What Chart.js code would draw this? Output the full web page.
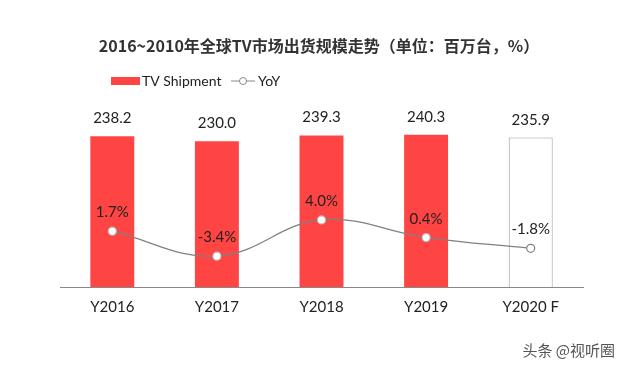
<!DOCTYPE html>
<html>
<head>
<meta charset="utf-8">
<script src="https://cdn.jsdelivr.net/npm/chart.js@4"></script>
<style>
html,body{margin:0;padding:0;background:#fff;}
#wrap{width:622px;height:367px;}
</style>
</head>
<body>
<div id="wrap"><canvas id="c" width="622" height="367"></canvas></div>
<script>
const categories = ['Y2016', 'Y2017', 'Y2018', 'Y2019', 'Y2020 F'];
const shipment = [238.2, 230.0, 239.3, 240.3, 235.9];
const yoy = [1.7, -3.4, 4.0, 0.4, -1.8];
const titleText = '2016~2010年全球TV市场出货规模走势（单位：百万台，%）';
const legendLabels = ['TV Shipment', 'YoY'];
const footerText = '头条 @视听圈';

const RED = '#FF4444';
const NUMFONT = 'Lato, "Liberation Sans", sans-serif';
const CJK = '"Noto Sans CJK SC", sans-serif';

const labelPlugin = {
  id: 'labels',
  afterDatasetsDraw(chart) {
    const ctx = chart.ctx;
    ctx.save();
    ctx.fillStyle = '#222';
    ctx.font = '15px ' + NUMFONT;
    ctx.textAlign = 'center';
    ctx.textBaseline = 'alphabetic';
    chart.getDatasetMeta(0).data.forEach((el, i) => {
      ctx.fillText(shipment[i].toFixed(1), el.x, el.y - 13);
    });
    chart.getDatasetMeta(1).data.forEach((el, i) => {
      ctx.fillText(yoy[i].toFixed(1) + '%', el.x, el.y - 14);
    });
    ctx.restore();
  },
  afterDraw(chart) {
    const ctx = chart.ctx;
    ctx.save();
    // title
    ctx.fillStyle = '#333';
    ctx.font = 'bold 16px ' + CJK;
    ctx.textAlign = 'center';
    ctx.textBaseline = 'middle';
    ctx.fillText(titleText, 319, 46);
    // legend
    ctx.fillStyle = RED;
    ctx.fillRect(111, 77, 29, 8);
    ctx.fillStyle = '#222';
    ctx.font = '14px ' + NUMFONT;
    ctx.textAlign = 'left';
    ctx.fillText(legendLabels[0], 142, 81);
    ctx.strokeStyle = '#888';
    ctx.lineWidth = 1;
    ctx.beginPath(); ctx.moveTo(231, 81); ctx.lineTo(255, 81); ctx.stroke();
    ctx.beginPath(); ctx.arc(243, 81, 3.5, 0, Math.PI * 2);
    ctx.fillStyle = '#fff'; ctx.fill(); ctx.stroke();
    ctx.fillStyle = '#222';
    ctx.fillText(legendLabels[1], 258, 81);
    // footer
    ctx.fillStyle = '#555';
    ctx.font = '15px ' + CJK;
    ctx.textAlign = 'right';
    ctx.fillText(footerText, 615, 350);
    ctx.restore();
  }
};

new Chart(document.getElementById('c'), {
  data: {
    labels: categories,
    datasets: [
      {
        type: 'bar',
        label: legendLabels[0],
        data: shipment,
        backgroundColor: shipment.map((v, i) => i === shipment.length - 1 ? '#FFFFFF' : RED),
        borderColor: shipment.map((v, i) => i === shipment.length - 1 ? '#999999' : RED),
        borderWidth: shipment.map((v, i) => i === shipment.length - 1 ? 1 : 0),
        categoryPercentage: 1,
        barPercentage: 0.42,
        yAxisID: 'y',
        order: 2
      },
      {
        type: 'line',
        label: legendLabels[1],
        data: yoy,
        borderColor: '#808080',
        borderWidth: 1.2,
        tension: 0.4,
        pointRadius: 4,
        pointBackgroundColor: '#fff',
        pointBorderColor: yoy.map((v, i) => i === yoy.length - 1 ? '#808080' : '#bbbbbb'),
        pointBorderWidth: 1.2,
        yAxisID: 'y2',
        order: 1
      }
    ]
  },
  options: {
    responsive: false,
    animation: false,
    layout: { padding: { left: 60, right: 39, top: 97, bottom: 40 } },
    plugins: { legend: { display: false }, title: { display: false }, tooltip: { enabled: false } },
    scales: {
      x: {
        offset: true,
        grid: { display: false, drawTicks: false },
        border: { display: true, color: '#888', width: 1 },
        ticks: { color: '#222', font: { size: 15, family: NUMFONT }, padding: 11 }
      },
      y: { display: false, min: 0, max: 300 },
      y2: { display: false, min: -9.7, max: 29.1 }
    }
  },
  plugins: [labelPlugin]
});
</script>
</body>
</html>
